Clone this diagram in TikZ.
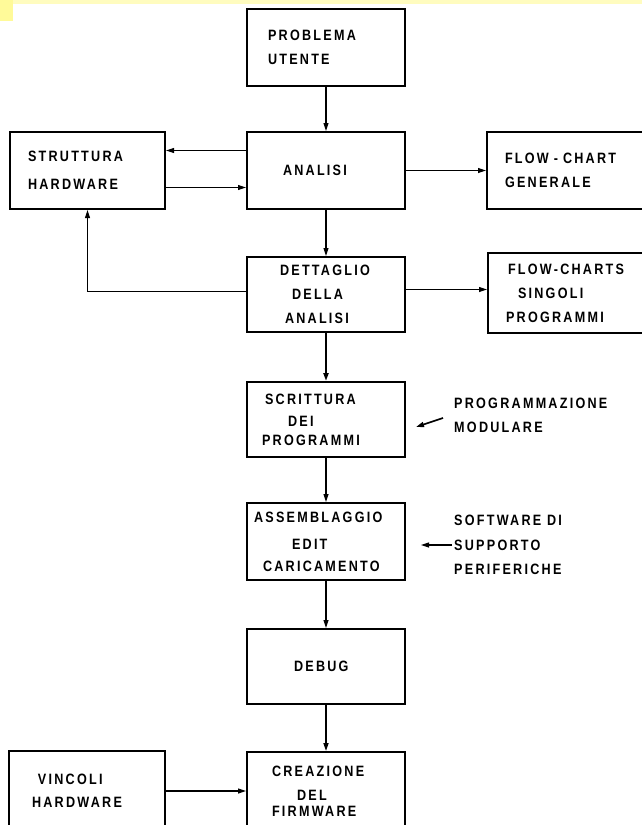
\documentclass[tikz,border=0pt]{standalone}
\usepackage{fontspec}
\newfontfamily\lettering{Liberation Sans}[FakeStretch=0.84,LetterSpace=15]
\usetikzlibrary{arrows.meta}
\newcommand{\indentby}[1]{\hspace*{#1pt}}

\begin{document}
\begin{tikzpicture}[x=1pt,y=-1pt,
  box/.style={draw, line width=2pt, minimum height=77pt, text width=158pt,
    inner xsep=0pt, align=left, font=\fontsize{15}{24}\lettering\bfseries},
  note/.style={anchor=west, inner sep=2pt, align=left,
    font=\fontsize{15}{24}\lettering\bfseries},
  arr/.style={-{Triangle[length=8pt,width=5pt]}, line width=1.1pt}]
\useasboundingbox (0,0) rectangle (642,825);
\clip (0,0) rectangle (642,825);
% scan tint
\fill[yellow!25] (0,0) rectangle (642,4);
\fill[yellow!40] (0,0) rectangle (13,21);
% boxes
\node[box] (prob) at (326,47) {\indentby{21}PROBLEMA\\\indentby{21}UTENTE};
\node[box, text width=155pt] (strut) at (87.5,170.5) {\indentby{18}STRUTTURA\\[4pt]\indentby{18}HARDWARE};
\node[box] (anal) at (326,170.5) {\indentby{36}ANALISI};
\node[box] (flow) at (566,170.5) {\indentby{18}FLOW - CHART\\\indentby{18}GENERALE};
\node[box, minimum height=75pt] (dett) at (326,294.5) {\indentby{33}DETTAGLIO\\\indentby{45}DELLA\\\indentby{38}ANALISI};
\node[box, minimum height=80pt] (flows) at (567,293) {\indentby{20}FLOW-CHARTS\\\indentby{30}SINGOLI\\\indentby{18}PROGRAMMI};
\node[box, minimum height=75pt] (scri) at (326,419.5) {\indentby{18}SCRITTURA\\[-2pt]\indentby{41}DEI\\[-5pt]\indentby{15}PROGRAMMI};
\node[box] (asse) at (326,541.5) {\indentby{7}ASSEMBLAGGIO\\[3pt]\indentby{45}EDIT\\[-2pt]\indentby{16}CARICAMENTO};
\node[box, minimum height=75pt] (debug) at (326,666.5) {\indentby{47}DEBUG};
\node[box, minimum height=80pt, text width=156pt] (vinc) at (87,791) {\indentby{29}VINCOLI\\[-1pt]\indentby{23}HARDWARE};
\node[box, minimum height=78pt] (crea) at (326,791) {\indentby{25}CREAZIONE\\\indentby{50}DEL\\[-8pt]\indentby{25}FIRMWARE};
% side notes
\node[note] (prog) at (452,415) {PROGRAMMAZIONE\\MODULARE};
\node[note] (soft) at (452,545) {SOFTWARE DI\\[1pt]SUPPORTO\\PERIFERICHE};
\coordinate (progtail) at (443,418);
\coordinate (progtip) at (416,427);
\coordinate (softtip) at (421,545);
% connectors
\draw[arr] (prob) -- (anal);
\draw[arr] ([yshift=20pt]anal.west) -- ([yshift=20pt]strut.east);
\draw[arr] ([yshift=-17pt]strut.east) -- ([yshift=-17pt]anal.west);
\draw[arr] (anal) -- (flow);
\draw[arr] (anal) -- (dett);
\draw[arr] ([yshift=3pt]dett.west) -| (strut.south);
\draw[arr] ([yshift=5pt]dett.east) -- ([yshift=5pt]dett.east -| flows.west);
\draw[arr, line width=2pt] (dett) -- (scri);
\draw[arr] (scri) -- (asse);
\draw[arr] (asse) -- (debug);
\draw[arr, line width=1.6pt] (debug) -- (crea);
\draw[arr] (vinc) -- (crea);
\draw[arr, line width=1.6pt] (progtail) -- (progtip);
\draw[arr] (soft.west) -- (softtip);
\end{tikzpicture}
\end{document}
